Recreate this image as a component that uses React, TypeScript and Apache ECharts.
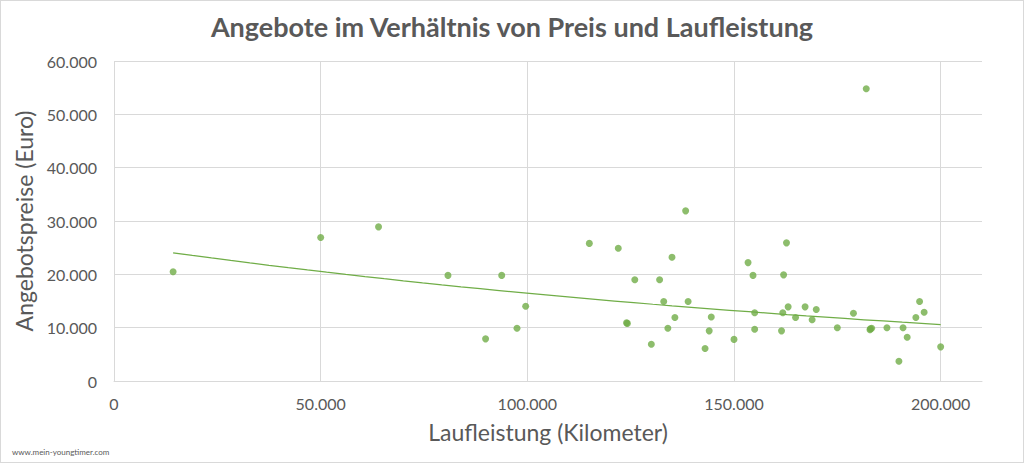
import React, { useEffect, useRef } from 'react';
import * as echarts from 'echarts';

// Laufleistung (km) und Angebotspreis (Euro) je Angebot
const mileage = [
  14300, 50000, 64000, 80800, 93800, 89900, 97500, 99600,
  115000, 122000, 135000, 126000, 132000, 138300, 133000, 138900,
  124000, 124200, 135700, 134000, 130000, 144500, 144000, 143000,
  150000, 153400, 154600, 155000, 155000, 162700, 162000, 161800,
  161500, 163100, 164900, 167200, 168900, 169900, 175000, 178900,
  182000, 182900, 183300, 183000, 187000, 190900, 191900, 189900,
  194000, 194900, 196000, 200000,
];
const price = [
  20500, 26900, 28900, 19800, 19800, 7900, 9900, 14000,
  25800, 24900, 23200, 19000, 19000, 31900, 14900, 14900,
  10900, 10800, 11900, 9900, 6900, 12000, 9400, 6100,
  7800, 22200, 19800, 12800, 9700, 25900, 19900, 12800,
  9400, 13900, 11900, 13900, 11500, 13400, 10000, 12700,
  54800, 9600, 9900, 9800, 10000, 10000, 8200, 3700,
  11900, 14900, 12900, 6400,
];

const xTicks = [0, 50000, 100000, 150000, 200000];
const yTicks = [0, 10000, 20000, 30000, 40000, 50000, 60000];

const fmt = (v: number) =>
  v === 0 ? '0' : String(Math.round(v)).replace(/\B(?=(\d{3})+(?!\d))/g, '.');

const green = '#70ad47';
const grey = '#595959';
const font = 'Lato, "Open Sans", sans-serif';

// exponentielle Trendlinie wie in Excel: ln(y) linear über x
function trend() {
  const n = mileage.length;
  const ly = price.map((p) => Math.log(p));
  const mx = mileage.reduce((a, b) => a + b, 0) / n;
  const my = ly.reduce((a, b) => a + b, 0) / n;
  let sxy = 0;
  let sxx = 0;
  for (let i = 0; i < n; i++) {
    sxy += (mileage[i] - mx) * (ly[i] - my);
    sxx += (mileage[i] - mx) ** 2;
  }
  const b = sxy / sxx;
  const a = my - b * mx;
  const x0 = Math.min(...mileage);
  const x1 = Math.max(...mileage);
  const pts: number[][] = [];
  const steps = 40;
  for (let i = 0; i <= steps; i++) {
    const x = x0 + ((x1 - x0) * i) / steps;
    pts.push([x, Math.exp(a + b * x)]);
  }
  return pts;
}

const App: React.FC = () => {
  const chartRef = useRef<HTMLDivElement>(null);

  useEffect(() => {
    if (!chartRef.current) return;
    document.body.style.margin = '0';
    const chart = echarts.init(chartRef.current, null, { renderer: 'svg' });

    const gridColor = '#d9d9d9';

    const option = {
      animation: false,
      backgroundColor: '#fff',
      textStyle: { fontFamily: font },
      title: {
        text: 'Angebote im Verhältnis von Preis und Laufleistung',
        left: 'center',
        top: 7,
        textStyle: { fontFamily: font, fontSize: 27, fontWeight: 'bold', color: grey },
      },
      grid: { left: 113, right: 41, top: 60, bottom: 81 },
      xAxis: {
        type: 'value',
        min: xTicks[0],
        max: 210000,
        interval: xTicks[1] - xTicks[0],
        name: 'Laufleistung (Kilometer)',
        nameLocation: 'middle',
        nameGap: 39,
        nameTextStyle: { fontSize: 23, color: grey, fontFamily: font },
        axisLine: { show: true, lineStyle: { color: gridColor } },
        axisTick: { show: false },
        axisLabel: {
          fontSize: 16,
          color: grey,
          margin: 14,
          showMaxLabel: false,
          formatter: (v: number) => (xTicks.includes(v) ? fmt(v) : ''),
        },
        splitLine: {
          show: true,
          lineStyle: {
            color: [gridColor, gridColor, gridColor, gridColor, gridColor, 'rgba(0,0,0,0)'],
          },
        },
      },
      yAxis: {
        type: 'value',
        min: yTicks[0],
        max: yTicks[yTicks.length - 1],
        interval: yTicks[1] - yTicks[0],
        name: 'Angebotspreise (Euro)',
        nameLocation: 'middle',
        nameGap: 78,
        nameTextStyle: { fontSize: 23, color: grey, fontFamily: font },
        axisLine: { show: false },
        axisTick: { show: false },
        axisLabel: { fontSize: 16, color: grey, margin: 17, formatter: fmt },
        splitLine: { show: true, lineStyle: { color: gridColor } },
      },
      graphic: [
        {
          type: 'text',
          left: 11,
          top: 447,
          style: { text: 'www.mein-youngtimer.com', fontSize: 8, fill: '#595959', fontFamily: font },
        },
      ],
      series: [
        {
          type: 'scatter',
          data: mileage.map((m, i) => [m, price[i]]),
          symbolSize: 7,
          itemStyle: { color: green },
          z: 3,
        },
        {
          type: 'line',
          data: trend(),
          showSymbol: false,
          symbol: 'none',
          smooth: false,
          lineStyle: { color: green, width: 1.25 },
          z: 2,
        },
      ],
    };

    chart.setOption(option);
    const onResize = () => chart.resize();
    window.addEventListener('resize', onResize);
    return () => {
      window.removeEventListener('resize', onResize);
      chart.dispose();
    };
  }, []);

  return (
    <div
      ref={chartRef}
      style={{ width: 1024, height: 463, boxSizing: 'border-box', border: '1px solid #d9d9d9' }}
    />
  );
};

export default App;
